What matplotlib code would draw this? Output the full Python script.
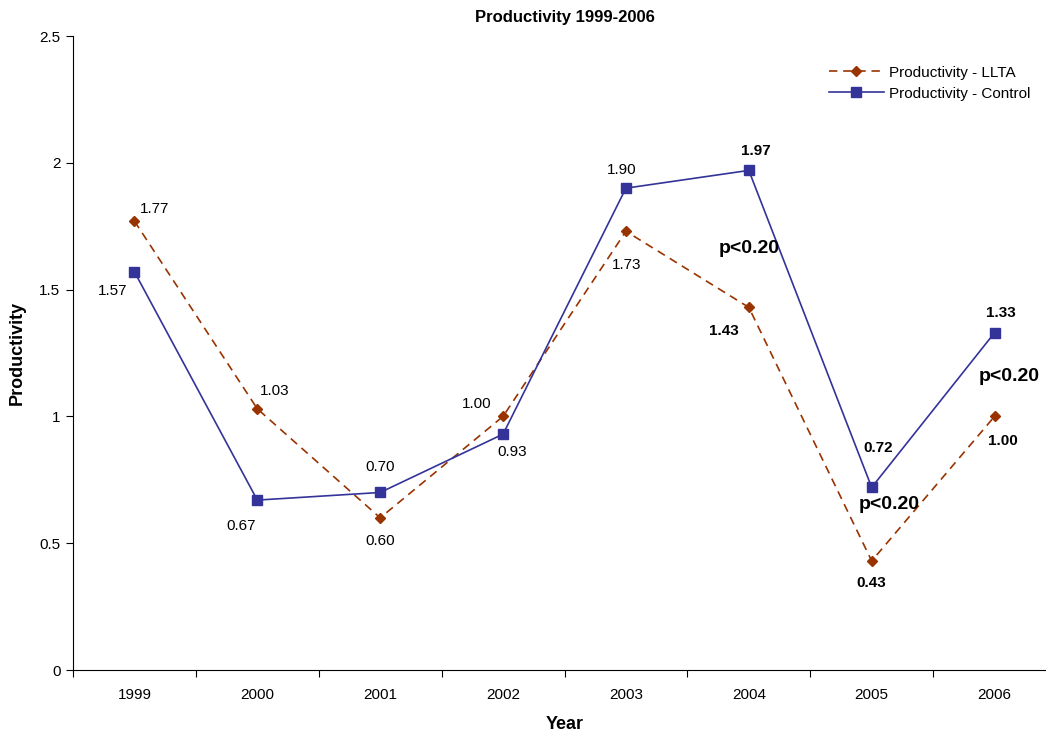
import matplotlib
matplotlib.use("Agg")
import matplotlib.pyplot as plt
from matplotlib.ticker import FixedLocator, NullFormatter

plt.rcParams['font.family'] = ['Liberation Sans', 'DejaVu Sans']

years = ["1999", "2000", "2001", "2002", "2003", "2004", "2005", "2006"]
llta = [1.77, 1.03, 0.60, 1.00, 1.73, 1.43, 0.43, 1.00]
control = [1.57, 0.67, 0.70, 0.93, 1.90, 1.97, 0.72, 1.33]
llta_labels = ["1.77", "1.03", "0.60", "1.00", "1.73", "1.43", "0.43", "1.00"]
control_labels = ["1.57", "0.67", "0.70", "0.93", "1.90", "1.97", "0.72", "1.33"]
bold_from = 5  # labels from 2004 on are bold
pval_text = "p<0.20"
pval_pos = [(5.006, 1.664), (6.145, 0.651), (7.122, 1.159)]

llta_off = [(20, 12), (17, 18), (0, -23), (-26, 12), (1, -34), (-25, -24), (0, -22), (8, -25)]
ctrl_off = [(-22, -19), (-16, -26), (0, 25), (9, -18), (-4, 18), (7, 19), (7, 39), (6, 20)]

W, H = 1046, 734
fig = plt.figure(figsize=(W / 100, H / 100), dpi=100)
ax = fig.add_axes([73 / W, 1 - 670 / H, (1056 - 73) / W, (670 - 36) / H])

x = list(range(len(years)))
ax.plot(x, llta, color="#993300", linestyle=(0, (5, 3.5)), linewidth=1.2,
        marker="D", markersize=5, label="Productivity - LLTA")
ax.plot(x, control, color="#333399", linestyle="-", linewidth=1.2,
        marker="s", markersize=6.5, label="Productivity - Control")

for i in x:
    w = "bold" if i >= bold_from else "normal"
    ax.annotate(llta_labels[i], (i, llta[i]), xytext=llta_off[i], textcoords="offset pixels",
                ha="center", va="center", fontsize=11, fontweight=w)
    ax.annotate(control_labels[i], (i, control[i]), xytext=ctrl_off[i], textcoords="offset pixels",
                ha="center", va="center", fontsize=11, fontweight=w)

for px, py in pval_pos:
    ax.text(px, py, pval_text, ha="center", va="center", fontsize=14, fontweight="bold")

ax.set_xlim(-0.5, len(years) - 0.5)
ax.set_ylim(0, 2.5)
ax.set_yticks([0, 0.5, 1, 1.5, 2, 2.5])
ax.set_yticklabels(["0", "0.5", "1", "1.5", "2", "2.5"])
ax.xaxis.set_major_locator(FixedLocator([i - 0.5 for i in range(len(years) + 1)]))
ax.xaxis.set_major_formatter(NullFormatter())
ax.xaxis.set_minor_locator(FixedLocator(x))
ax.set_xticklabels(years, minor=True)
ax.tick_params(axis="x", which="minor", length=0, pad=13, labelsize=11)
ax.tick_params(axis="x", which="major", length=5, direction="out")
ax.tick_params(axis="y", which="major", direction="out", length=5, labelsize=11, pad=4)

for s in ["top", "right"]:
    ax.spines[s].set_visible(False)
ax.spines["left"].set_color("black")
ax.spines["bottom"].set_color("black")

ax.set_xlabel("Year", fontsize=13, fontweight="bold", labelpad=10)
ax.set_ylabel("Productivity", fontsize=13, fontweight="bold")
ax.yaxis.set_label_coords(-(73 - 26) / 983, 0.5)
ax.set_title("Productivity 1999-2006", fontsize=12, fontweight="bold", pad=10)

ax.legend(loc="upper right", bbox_to_anchor=(1044 / W, 1 - 52 / H), bbox_transform=fig.transFigure,
          frameon=False, fontsize=11, handlelength=3.6, handletextpad=0.35, labelspacing=0.45)

fig.savefig("out.png", dpi=100)
